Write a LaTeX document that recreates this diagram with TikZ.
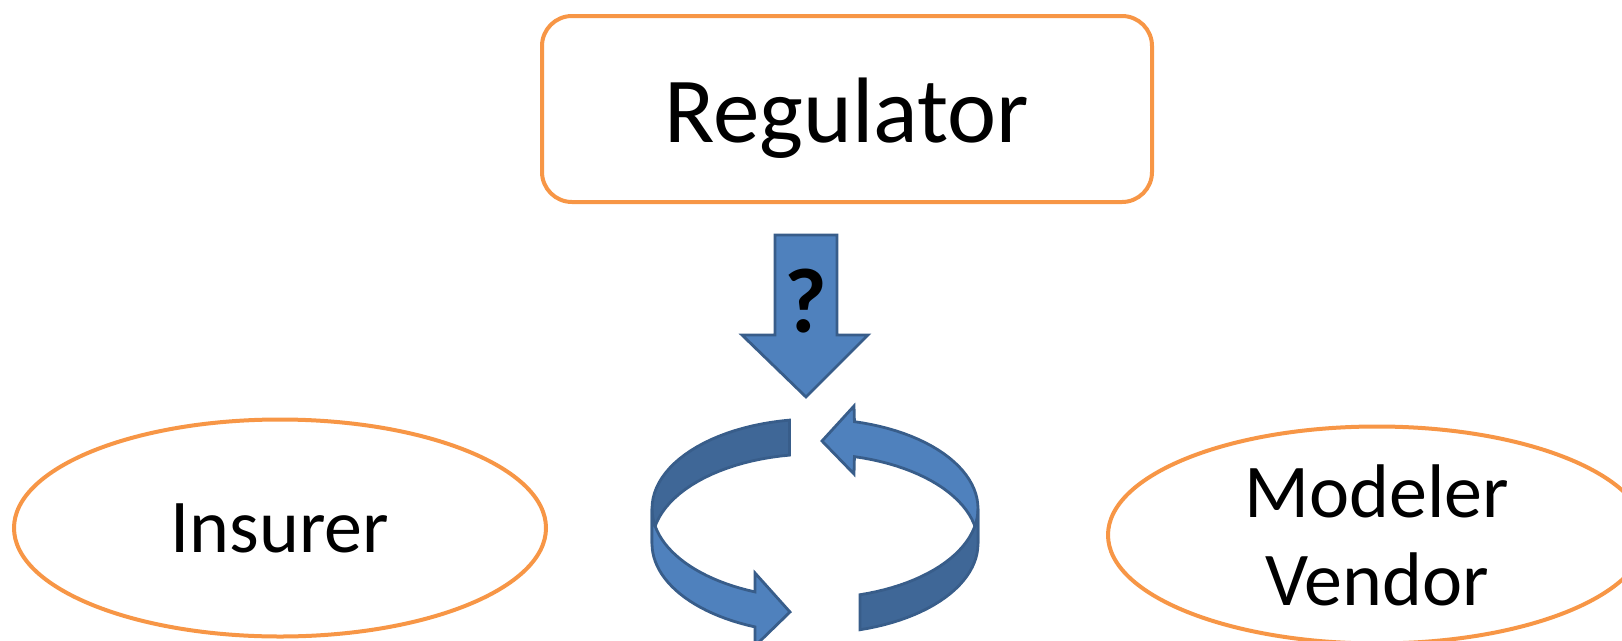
\documentclass[tikz,border=0pt]{standalone}
\usepackage{fontspec}
\setmainfont{Carlito}
\usetikzlibrary{shapes.geometric}
\definecolor{MyOrange}{HTML}{F79646}
\definecolor{MyBlue}{HTML}{4F81BD}
\definecolor{MyDarkBlue}{HTML}{3F6797}
\definecolor{MyEdge}{HTML}{385D8A}

\begin{document}
\begin{tikzpicture} [
            x=1pt, y=-1pt,
            declare function={ringx(\t)=815+163*cos(\t); ringy(\t)=508.6+89.6*sin(\t);},
            every node/.style={align=center,inner sep=0pt},
            actor/.style={draw=MyOrange,line width=4pt,fill=white,font=\fontsize{76}{88}\selectfont},
            authority/.style={actor,rectangle,rounded corners=30pt,minimum width=610pt,minimum height=186pt,text height=66pt,text depth=0pt,font=\fontsize{93}{110}\selectfont},
            party/.style={actor,ellipse,minimum height=217pt},
            blockarrow/.style={draw=MyEdge,line width=2.8pt,line join=miter,fill=MyBlue},
            ringlight/.style={blockarrow,fill=MyBlue},
            ringdark/.style={blockarrow,fill=MyDarkBlue}
        ]
        \useasboundingbox (0,0) rectangle (1622,640);
        \clip (0,0) rectangle (1622,640);

        \node at (847,109) [authority] (regulator) {Regulator};

        \node at (280,528) [party,minimum width=532pt] (insurer) {Insurer};

        \node at (1377,535) [party,minimum width=538pt] (vendor) {Modeler \\ Vendor};

        % arrow down from the regulator
        \path[blockarrow] (775,235) -- (837,235) -- (837,335) -- (868,335) -- (806,397) -- (742,335) -- (775,335) -- cycle;
        \node at (806,301) [font=\fontsize{92}{100}\selectfont\bfseries] (query) {?};

        % cycle between insurer and vendor
        \path[ringdark] plot[domain=261:180] ({ringx(\x)},{ringy(\x)}) -- plot[domain=180:261] ({ringx(\x)},{ringy(\x)+35}) -- cycle;
        \path[ringlight] plot[domain=360:284] ({ringx(\x)},{ringy(\x)}) -- (854,406) -- (822,441) -- (854,474) -- plot[domain=284:360] ({ringx(\x)},{ringy(\x)+35}) -- cycle;
        \path[ringlight] plot[domain=180:111.6] ({ringx(\x)},{ringy(\x)}) -- (755,573) -- (790,612) -- (755,646) -- plot[domain=111.6:180] ({ringx(\x)},{ringy(\x)+35}) -- cycle;
        \path[ringdark] plot[domain=74:0] ({ringx(\x)},{ringy(\x)}) -- plot[domain=0:74] ({ringx(\x)},{ringy(\x)+35}) -- cycle;
    \end{tikzpicture}
\end{document}
